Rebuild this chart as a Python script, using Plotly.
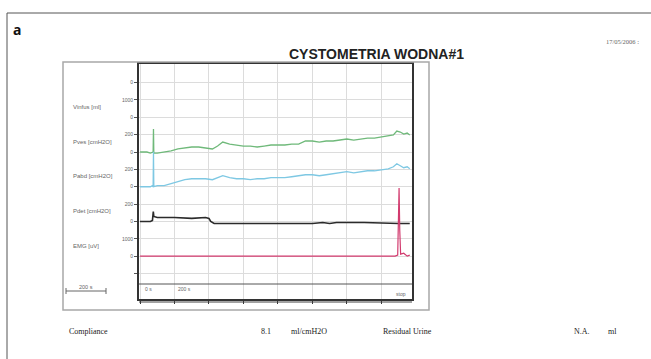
import plotly.graph_objects as go

W, H = 651, 359

# ---------------- data ----------------
time_s = [0, 40, 60, 70, 76, 78, 80, 100, 140, 180, 220, 260, 300, 340, 380, 420,
          450, 480, 520, 560, 600, 640, 680, 720, 760, 800, 840, 880, 920, 960, 1000,
          1040, 1080, 1120, 1160, 1200, 1240, 1280, 1320, 1360, 1400, 1440, 1470,
          1490, 1510, 1530, 1550, 1565]
pves = [0, 0, -12, 0, 0, 265, -12, -12, 0, 12, 35, 46, 58, 58, 46, 35,
        69, 115, 92, 81, 69, 69, 58, 69, 81, 81, 81, 92, 92, 127, 127,
        115, 127, 127, 138, 150, 138, 150, 161, 161, 173, 184, 196,
        242, 230, 207, 219, 196]
pabd = [0, 0, 0, 12, 0, 403, 0, 12, 12, 35, 58, 81, 92, 92, 92, 81,
        104, 127, 104, 92, 92, 81, 92, 92, 104, 104, 104, 115, 127, 138, 138,
        127, 138, 150, 161, 173, 161, 173, 184, 184, 196, 207, 230,
        265, 242, 219, 230, 207]
pdet_time = [0, 60, 72, 75, 77, 80, 100, 200, 300, 380, 400, 410, 430, 600, 800,
             1000, 1060, 1100, 1140, 1300, 1500, 1565]
pdet = [0, 0, 12, 115, 115, 58, 46, 46, 35, 46, 35, 0, -23, -23, -23,
        -23, -12, -23, -12, -12, -23, -23]
emg_time = [0, 300, 600, 900, 1200, 1480, 1495, 1500, 1503, 1507, 1512, 1530, 1550, 1565]
emg = [0, 0, 0, 0, 0, 0, 58, 2070, 3920, 1500, 115, 173, 0, 58]

channel_names = ["Vinfus [ml]", "Pves [cmH2O]", "Pabd [cmH2O]", "Pdet [cmH2O]", "EMG [uV]"]
channel_full = [1000, 200, 200, 200, 1000]      # value per grid row
channel_zero_row = [10, 8, 6, 4, 2]             # grid row of each channel's zero
tick_rows = [1, 2, 3, 4, 5, 6, 7, 8, 9, 10, 11, 12]
tick_labels = ["", "0", "1000", "0", "200", "0", "200", "0", "200", "0", "1000", "0"]

title = "CYSTOMETRIA WODNA#1"
date_text = "17/05/2006 :"
footer = [("Compliance", 67), ("8.1", 259), ("ml/cmH2O", 289), ("Residual Urine", 381),
          ("N.A.", 572), ("ml", 606)]

# ---------------- helpers ----------------
def px(x):
    return x / W

def py(y):
    return 1 - y / H

def to_rows(values, ch):
    return [channel_zero_row[ch] + v / channel_full[ch] for v in values]

fig = go.Figure()

fig.add_trace(go.Scatter(x=time_s, y=to_rows(pves, 1), mode="lines",
                         line=dict(color="#6fb97a", width=1.3), name=channel_names[1]))
fig.add_trace(go.Scatter(x=time_s, y=to_rows(pabd, 2), mode="lines",
                         line=dict(color="#7ec8e3", width=1.3), name=channel_names[2]))
fig.add_trace(go.Scatter(x=pdet_time, y=to_rows(pdet, 3), mode="lines",
                         line=dict(color="#2b2b2b", width=1.6), name=channel_names[3]))
fig.add_trace(go.Scatter(x=emg_time, y=to_rows(emg, 4), mode="lines",
                         line=dict(color="#d23a6e", width=1.2), name=channel_names[4]))

x0, x1 = 139, 412
y0, y1 = 64, 299
row_px = 17.36
row0_px = 290.9

fig.update_layout(
    width=W, height=H, margin=dict(l=0, r=0, t=0, b=0),
    paper_bgcolor="white", plot_bgcolor="white", showlegend=False,
    xaxis=dict(domain=[px(x0), px(x1)], range=[-6, 1578], tick0=0, dtick=200,
               showgrid=True, gridcolor="#dcdcdc", gridwidth=1, zeroline=False,
               showticklabels=False, ticks="outside", ticklen=3, tickcolor="#333",
               showline=True, linecolor="#333", linewidth=1.5, mirror=True),
    yaxis=dict(domain=[py(y1), py(y0)],
               range=[(row0_px - y1) / row_px, (row0_px - y0) / row_px],
               tickvals=tick_rows, ticktext=tick_labels,
               showgrid=True, gridcolor="#dcdcdc", gridwidth=1, zeroline=False,
               ticks="outside", ticklen=3, tickcolor="#555",
               tickfont=dict(size=5, color="#666", family="Liberation Sans"),
               showline=True, linecolor="#333", linewidth=2, mirror=True),
)

shapes = []
# outer page border
shapes.append(dict(type="line", xref="paper", yref="paper", x0=px(7), x1=px(651),
                   y0=py(13), y1=py(13), line=dict(color="#555", width=1)))
shapes.append(dict(type="line", xref="paper", yref="paper", x0=px(7), x1=px(7),
                   y0=py(13), y1=py(359), line=dict(color="#555", width=1)))
# gray panel frame
shapes.append(dict(type="rect", xref="paper", yref="paper", x0=px(63), x1=px(429),
                   y0=py(310), y1=py(62), line=dict(color="#a8a8a8", width=1.5)))
# marker line inside plot
shapes.append(dict(type="line", xref="paper", yref="paper", x0=px(139), x1=px(412),
                   y0=py(284), y1=py(284), line=dict(color="#555", width=1)))
# bottom heavy line
shapes.append(dict(type="line", xref="paper", yref="paper", x0=px(139), x1=px(412),
                   y0=py(302), y1=py(302), line=dict(color="#444", width=1)))
# 200 s scale bar
shapes.append(dict(type="line", xref="paper", yref="paper", x0=px(66), x1=px(106),
                   y0=py(291), y1=py(291), line=dict(color="#666", width=1)))
for xb in (66, 106):
    shapes.append(dict(type="line", xref="paper", yref="paper", x0=px(xb), x1=px(xb),
                       y0=py(288), y1=py(294), line=dict(color="#666", width=1)))
fig.update_layout(shapes=shapes)

ann = []
ann.append(dict(text="<b>a</b>", x=px(11), y=py(30), xref="paper", yref="paper",
                xanchor="left", yanchor="middle", showarrow=False,
                font=dict(size=14, color="#111", family="Noto Sans")))
ann.append(dict(text="<b>" + title + "</b>", x=px(376), y=py(54), xref="paper", yref="paper",
                xanchor="center", yanchor="middle", showarrow=False,
                font=dict(size=14, color="#222", family="Liberation Sans")))
ann.append(dict(text=date_text, x=px(622), y=py(41), xref="paper", yref="paper",
                xanchor="center", yanchor="middle", showarrow=False,
                font=dict(size=6.5, color="#666", family="Liberation Serif")))
for i, name in enumerate(channel_names):
    ann.append(dict(text=name, x=px(71), y=channel_zero_row[i] + 0.6, xref="paper", yref="y",
                    xanchor="left", yanchor="middle", showarrow=False,
                    font=dict(size=6, color="#666", family="Liberation Sans")))
ann.append(dict(text="200 s", x=px(86), y=py(287), xref="paper", yref="paper",
                xanchor="center", yanchor="middle", showarrow=False,
                font=dict(size=5.5, color="#666", family="Liberation Sans")))
ann.append(dict(text="0 s", x=px(143), y=py(289), xref="paper", yref="paper",
                xanchor="left", yanchor="middle", showarrow=False,
                font=dict(size=5, color="#666", family="Liberation Sans")))
ann.append(dict(text="200 s", x=px(176), y=py(289), xref="paper", yref="paper",
                xanchor="left", yanchor="middle", showarrow=False,
                font=dict(size=5, color="#666", family="Liberation Sans")))
ann.append(dict(text="stop", x=px(401), y=py(294), xref="paper", yref="paper",
                xanchor="center", yanchor="middle", showarrow=False,
                font=dict(size=5, color="#666", family="Liberation Sans")))
for txt, xl in footer:
    ann.append(dict(text=txt, x=px(xl), y=py(331), xref="paper", yref="paper",
                    xanchor="left", yanchor="middle", showarrow=False,
                    font=dict(size=8, color="#222", family="Liberation Serif")))
fig.update_layout(annotations=ann)

fig.write_html("out.html")
